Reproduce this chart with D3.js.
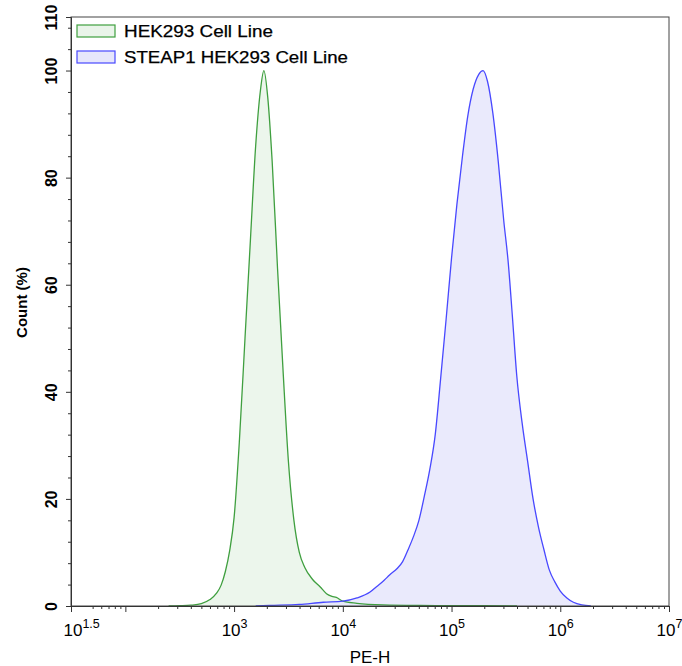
<!DOCTYPE html>
<html>
<head>
<meta charset="utf-8">
<script src="https://cdn.jsdelivr.net/npm/d3@7"></script>
<style>
  body { margin: 0; background: #fff; }
  text { font-family: "Liberation Sans", Arial, sans-serif; }
  .domain { stroke: #333; }
  .tick line { stroke: #333; }
</style>
</head>
<body>
<div id="chart"></div>
<script>
// Histogram data: PE-H intensity and Count (%)
var hekX = [250, 320, 400, 500, 600, 690, 760, 830, 910, 1000, 1120, 1260, 1410, 1580, 1740, 1880,
  2040, 2240, 2510, 2820, 3160, 3550, 3980, 4470, 5250, 6170, 7080, 7940, 8710, 10000, 13500,
  23400, 50000, 200000, 400000];
var hekY = [0, 0.05, 0.15, 0.45, 1.2, 2.4, 3.9, 6.4, 10.3, 16.5, 31, 50, 68, 86, 96, 100,
  95, 83, 63, 44, 27, 16, 10, 7.2, 5, 3.6, 2.3, 1.8, 1.6, 0.9, 0.5,
  0.2, 0.1, 0.05, 0];

var steapX = [1580, 2140, 3980, 6610, 10000, 13500, 17800, 20400, 24000, 26900, 31600, 35500,
  39800, 44700, 50100, 56200, 63100, 70800, 79400, 89100, 100000, 112000, 126000, 141000,
  158000, 178000, 195000, 214000, 240000, 269000, 302000, 331000, 363000, 398000, 447000,
  501000, 562000, 631000, 708000, 794000, 891000, 1000000, 1150000, 1320000, 1580000, 1910000];
var steapY = [0, 0.1, 0.3, 0.7, 0.9, 1.5, 2.6, 3.6, 4.8, 5.8, 7, 8.3,
  10.5, 13, 16, 20.5, 25.5, 32, 42.5, 53.5, 65, 75, 84, 91.5,
  96.5, 99.3, 100, 98, 92, 83, 72, 64.5, 54, 43, 34,
  27, 20, 14.7, 10.5, 6.7, 4.5, 2.8, 1.5, 0.7, 0.2, 0];

var seriesNames = ["HEK293 Cell Line", "STEAP1 HEK293 Cell Line"];
var strokeColors = ["#3f9f3f", "#4848ff"];
var fillColors = ["#e9f4e9", "#e6e6fb"];

var xMajorTicks = [Math.pow(10, 1.5), 1e2, 1e3, 1e4, 1e5, 1e6, 1e7];
var xTickLabels = ["1.5", "", "3", "4", "5", "6", "7"];
var yMajorTicks = [0, 20, 40, 60, 80, 100, 110];

//Chart size
var svgWidth = 682;
var svgHeight = 666;
var margin = { top: 17, right: 13, bottom: 60, left: 71 };
var width = svgWidth - margin.left - margin.right;
var height = svgHeight - margin.top - margin.bottom;

var svg = d3.select("#chart")
  .append("svg")
  .attr("width", svgWidth)
  .attr("height", svgHeight);

var chartGroup = svg.append("g")
  .attr("transform", `translate(${margin.left}, ${margin.top})`);

//Scales
var xScale = d3.scaleLog()
  .domain([Math.pow(10, 1.5), 1e7])
  .range([0, width]);
var yScale = d3.scaleLinear()
  .domain([0, 110])
  .range([height, 0]);

//Minor ticks
var xMinorTicks = [];
for (var p = 1; p <= 6; p++) {
  for (var k = 2; k <= 9; k++) {
    var v = k * Math.pow(10, p);
    if (v > 45 && v < 1e7) xMinorTicks.push(v);
  }
}
var yMinorTicks = d3.range(4, 110, 4).filter(d => d % 20 !== 0);

//Series
var series = [
  hekX.map((d, i) => ({ x: d, y: hekY[i] })),
  steapX.map((d, i) => ({ x: d, y: steapY[i] }))
];

var area = d3.area()
  .x(d => xScale(d.x))
  .y0(height)
  .y1(d => yScale(d.y))
  .curve(d3.curveMonotoneX);
var line = d3.line()
  .x(d => xScale(d.x))
  .y(d => yScale(d.y))
  .curve(d3.curveMonotoneX);

series.forEach(function(s, i) {
  chartGroup.append("path")
    .datum(s)
    .attr("d", area)
    .attr("fill", fillColors[i])
    .attr("fill-opacity", 0.85);
});
series.forEach(function(s, i) {
  chartGroup.append("path")
    .datum(s)
    .attr("d", line)
    .attr("fill", "none")
    .attr("stroke", strokeColors[i])
    .attr("stroke-width", 1.3);
});

//Frame
chartGroup.append("rect")
  .attr("width", width)
  .attr("height", height)
  .attr("fill", "none")
  .attr("stroke", "#444")
  .attr("stroke-width", 1);

//X axis
chartGroup.append("g")
  .attr("transform", `translate(0, ${height})`)
  .call(d3.axisBottom(xScale).tickValues(xMinorTicks).tickSize(3).tickSizeOuter(0).tickFormat(""));

var xAxis = chartGroup.append("g")
  .attr("transform", `translate(0, ${height})`)
  .call(d3.axisBottom(xScale).tickValues(xMajorTicks).tickSize(6).tickSizeOuter(0).tickFormat(""));

xAxis.selectAll(".tick text").each(function(d, i) {
  var t = d3.select(this)
    .attr("y", 30)
    .attr("dy", 0)
    .attr("fill", "#000")
    .attr("font-size", 17);
  if (xTickLabels[i] === "") return;
  t.append("tspan").text("10");
  t.append("tspan").attr("dy", -8).attr("font-size", 12.5).text(xTickLabels[i]);
  if (i === 0) t.attr("text-anchor", "start").attr("x", -8);
});

//Y axis
chartGroup.append("g")
  .call(d3.axisLeft(yScale).tickValues(yMinorTicks).tickSize(3).tickSizeOuter(0).tickFormat(""));

var yAxis = chartGroup.append("g")
  .call(d3.axisLeft(yScale).tickValues(yMajorTicks).tickSize(5).tickSizeOuter(0));

yAxis.selectAll(".tick text")
  .attr("x", 0)
  .attr("y", -14)
  .attr("dy", 0)
  .attr("transform", "rotate(-90)")
  .attr("text-anchor", "middle")
  .attr("font-size", 16)
  .attr("font-weight", "bold")
  .attr("fill", "#000");

//Axis labels
chartGroup.append("text")
  .attr("transform", "rotate(-90)")
  .attr("x", -height / 2 + 9)
  .attr("y", -margin.left + 27)
  .attr("text-anchor", "middle")
  .attr("font-size", 15)
  .attr("font-weight", "bold")
  .text("Count (%)");

chartGroup.append("text")
  .attr("x", width / 2)
  .attr("y", height + 57)
  .attr("text-anchor", "middle")
  .attr("font-size", 17)
  .text("PE-H");

//Legend
var legend = chartGroup.selectAll(".legend")
  .data(seriesNames)
  .enter()
  .append("g")
  .attr("transform", (d, i) => `translate(6, ${8 + i * 26})`);

legend.append("rect")
  .attr("width", 38)
  .attr("height", 12)
  .attr("fill", (d, i) => fillColors[i])
  .attr("stroke", (d, i) => strokeColors[i])
  .attr("stroke-width", 1.2);

legend.append("text")
  .attr("x", 47)
  .attr("y", 12)
  .attr("font-size", 16.5)
  .attr("stroke", "#000")
  .attr("stroke-width", 0.25)
  .attr("textLength", (d, i) => i === 0 ? 149 : 224)
  .attr("lengthAdjust", "spacingAndGlyphs")
  .text(d => d);
</script>
</body>
</html>
